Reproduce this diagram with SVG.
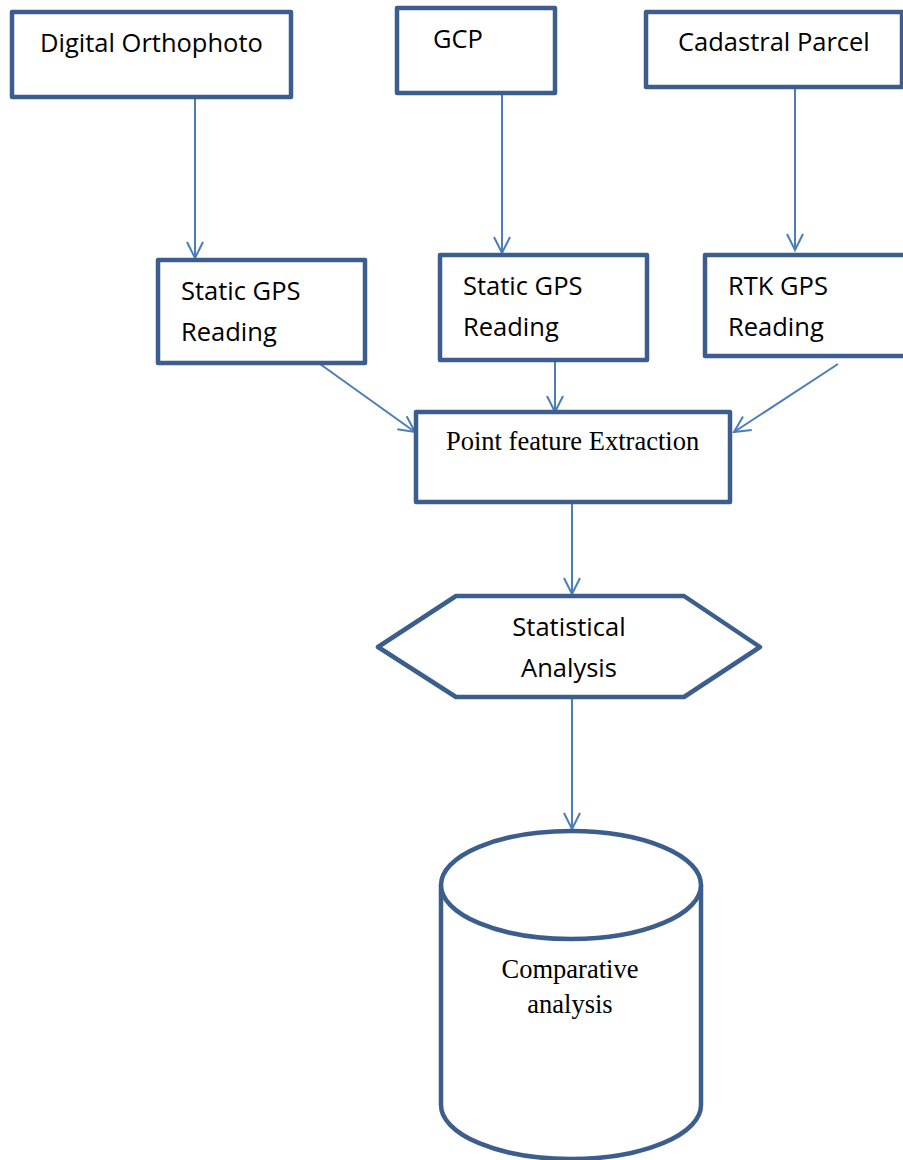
<svg xmlns="http://www.w3.org/2000/svg" width="903" height="1160" viewBox="0 0 903 1160">
<style>
.box{fill:#fff;stroke:#3B5E8C;stroke-width:4.5;stroke-linejoin:round}
.sans{font-family:"Open Sans","Liberation Sans",sans-serif;font-size:25.5px;fill:#000}
.serif{font-family:"Liberation Serif","Times New Roman",serif;font-size:26.5px;fill:#000}
.conn{stroke:#4A7EBB;stroke-width:2;fill:none;marker-end:url(#arr)}
</style>
<defs>
<marker id="arr" viewBox="0 0 20 20" refX="18" refY="10" markerWidth="20" markerHeight="20" markerUnits="userSpaceOnUse" orient="auto">
<path d="M2,2 L18,10 L2,18" fill="none" stroke="#4A7EBB" stroke-width="2"/>
</marker>
</defs>
<rect width="903" height="1160" fill="#fff"/>
<g id="connectors">
<line class="conn" x1="195" y1="98" x2="195" y2="258"/>
<line class="conn" x1="502" y1="88" x2="502" y2="253"/>
<line class="conn" x1="795" y1="87" x2="795" y2="250"/>
<line class="conn" x1="320" y1="364" x2="415" y2="432"/>
<line class="conn" x1="555" y1="362" x2="555" y2="412"/>
<line class="conn" x1="838" y1="364" x2="734" y2="432"/>
<line class="conn" x1="572" y1="503" x2="572" y2="594"/>
<line class="conn" x1="572" y1="698" x2="572" y2="829"/>
</g>
<g id="digital-orthophoto">
<rect class="box" x="12" y="12" width="279" height="85"/>
<text class="sans" x="40" y="52">Digital Orthophoto</text>
</g>
<g id="gcp">
<rect class="box" x="397" y="8" width="158" height="85"/>
<text class="sans" x="433" y="48">GCP</text>
</g>
<g id="cadastral-parcel">
<rect class="box" x="646" y="12" width="256" height="75"/>
<text class="sans" x="678" y="51">Cadastral Parcel</text>
</g>
<g id="static-gps-1">
<rect class="box" x="158" y="260" width="207" height="103"/>
<text class="sans" x="181" y="300">Static GPS</text>
<text class="sans" x="181" y="341">Reading</text>
</g>
<g id="static-gps-2">
<rect class="box" x="440" y="255" width="207" height="105"/>
<text class="sans" x="463" y="295">Static GPS</text>
<text class="sans" x="463" y="336">Reading</text>
</g>
<g id="rtk-gps">
<rect class="box" x="705" y="255" width="205" height="101"/>
<text class="sans" x="728" y="295">RTK GPS</text>
<text class="sans" x="728" y="336">Reading</text>
</g>
<g id="point-feature-extraction">
<rect class="box" x="416" y="412" width="314" height="90"/>
<text class="serif" x="446" y="450">Point feature Extraction</text>
</g>
<g id="statistical-analysis">
<polygon class="box" points="378,647 456,596 684,596 760,647 684,697 456,697"/>
<text class="sans" x="569" y="636" text-anchor="middle">Statistical</text>
<text class="sans" x="569" y="677" text-anchor="middle">Analysis</text>
</g>
<g id="comparative-analysis">
<path class="box" d="M441,885 L441,1105 A130,54 0 0 0 701,1105 L701,885"/>
<ellipse class="box" cx="571" cy="885" rx="130" ry="54"/>
<text class="serif" x="570" y="978" text-anchor="middle">Comparative</text>
<text class="serif" x="570" y="1013" text-anchor="middle">analysis</text>
</g>
</svg>
